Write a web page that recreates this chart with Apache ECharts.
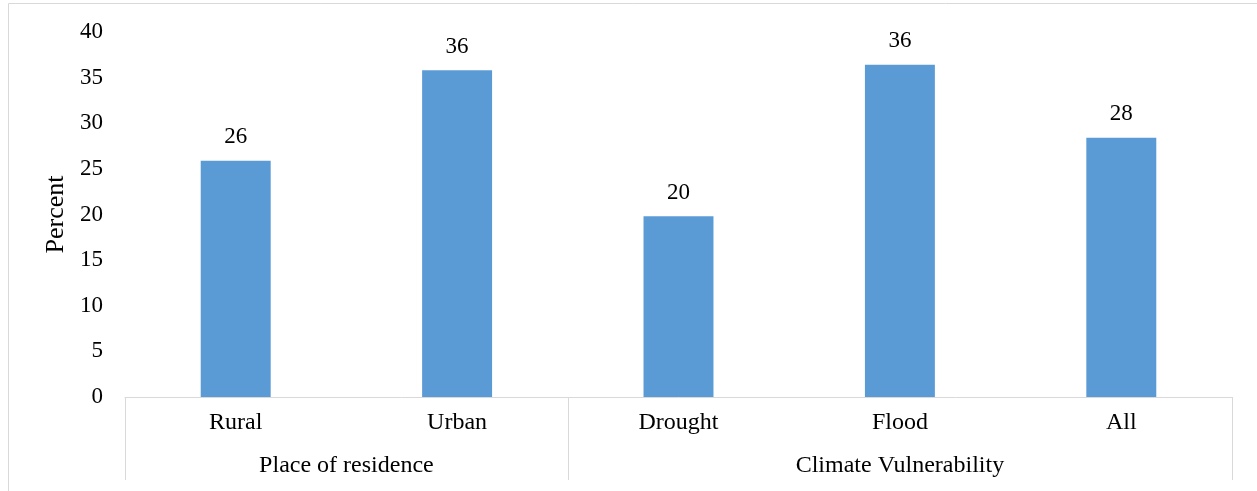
<!DOCTYPE html>
<html>
<head>
<meta charset="utf-8">
<script src="https://cdn.jsdelivr.net/npm/echarts@6/dist/echarts.min.js"></script>
<style>
  html, body { margin: 0; padding: 0; background: #fff; }
  #chart { width: 1257px; height: 491px; }
</style>
</head>
<body>
<div id="chart"></div>
<script>
// Share of respondents (percent) by place of residence and climate vulnerability
const categories = ['Rural', 'Urban', 'Drought', 'Flood', 'All'];
const percentValues = [25.9, 35.8, 19.8, 36.4, 28.4];
const groupNames = ['Place of residence', 'Climate Vulnerability'];
// group spans in half-category units: residence covers 2 bars, vulnerability 3
const groupCentres = [2, 7];
const groupEdges = [0, 4, 10];
const yTicks = [0, 5, 10, 15, 20, 25, 30, 35, 40];

const FONT = '"Liberation Serif", "Times New Roman", serif';
const GRID_LINE = '#d9d9d9';
const FS = 24;

const chart = echarts.init(document.getElementById('chart'), null, { renderer: 'canvas' });

chart.setOption({
  animation: false,
  backgroundColor: '#fff',
  textStyle: { fontFamily: FONT },
  grid: { left: 125, right: 25, top: 32, bottom: 94, containLabel: false },
  graphic: [{
    type: 'rect',
    shape: { x: 8.5, y: 3.5, width: 1300, height: 600 },
    style: { fill: 'none', stroke: GRID_LINE, lineWidth: 1 },
    silent: true,
    z: -10
  }],
  xAxis: [
    {
      type: 'category',
      data: categories,
      position: 'bottom',
      axisLine: { show: true, lineStyle: { color: GRID_LINE, width: 1 } },
      axisTick: { show: false },
      axisLabel: { color: '#000', fontSize: FS, fontFamily: FONT, margin: 14 },
      splitLine: { show: false }
    },
    {
      type: 'value',
      position: 'bottom',
      min: 0,
      max: 10,
      interval: 1,
      axisLine: { show: false },
      axisTick: {
        show: true,
        length: 83,
        customValues: groupEdges,
        lineStyle: { color: GRID_LINE, width: 1 }
      },
      axisLabel: {
        show: true,
        customValues: groupCentres,
        color: '#000',
        fontSize: FS,
        fontFamily: FONT,
        margin: 57,
        formatter: function (v) {
          const i = groupCentres.indexOf(v);
          return i >= 0 ? groupNames[i] : '';
        }
      },
      splitLine: { show: false }
    }
  ],
  yAxis: {
    type: 'value',
    min: yTicks[0],
    max: yTicks[yTicks.length - 1],
    interval: 5,
    name: 'Percent',
    nameLocation: 'middle',
    nameGap: 54,
    nameRotate: 90,
    nameTextStyle: { color: '#000', fontSize: 26, fontFamily: FONT },
    axisLine: { show: false },
    axisTick: { show: false },
    splitLine: { show: false },
    axisLabel: { color: '#000', fontSize: 23, fontFamily: FONT, margin: 22 }
  },
  series: [{
    type: 'bar',
    xAxisIndex: 0,
    data: percentValues,
    barWidth: '31.6%',
    itemStyle: { color: '#5B9BD5' },
    label: {
      show: true,
      position: 'top',
      distance: 12,
      color: '#000',
      fontSize: 23,
      fontFamily: FONT,
      formatter: function (p) { return Math.round(p.value).toString(); }
    }
  }]
});
</script>
</body>
</html>
